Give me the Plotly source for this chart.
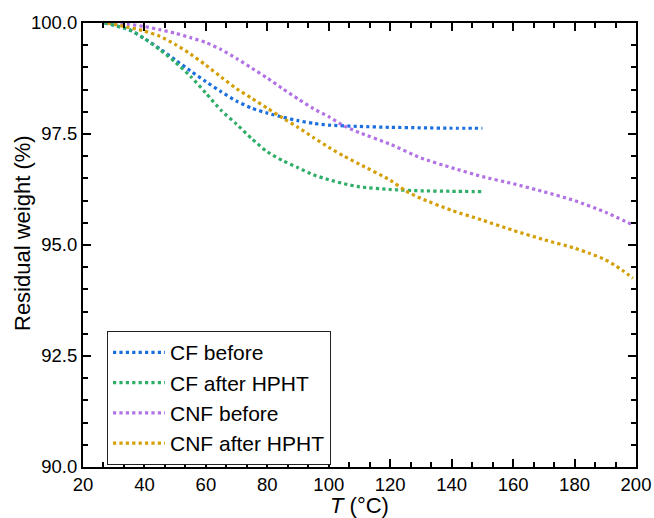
import plotly.graph_objects as go

# Thermogravimetric curves: residual weight vs temperature
cf_before_T = [27, 35, 40, 45, 50, 55, 60, 65, 70, 75, 80, 85, 90, 95, 100, 110, 120, 130, 140, 150]
cf_before_w = [100.0, 99.85, 99.65, 99.42, 99.17, 98.92, 98.68, 98.45, 98.24, 98.08, 97.97, 97.88, 97.8, 97.74, 97.7, 97.67, 97.65, 97.64, 97.63, 97.63]

cf_after_T = [27, 35, 40, 45, 50, 55, 60, 65, 70, 75, 80, 85, 90, 95, 100, 105, 110, 120, 130, 140, 150]
cf_after_w = [100.0, 99.85, 99.65, 99.4, 99.12, 98.8, 98.42, 98.03, 97.72, 97.39, 97.1, 96.9, 96.74, 96.58, 96.47, 96.38, 96.31, 96.25, 96.22, 96.21, 96.2]

cnf_before_T = [28, 35, 40, 45, 50, 55, 60, 65, 70, 75, 80, 85, 90, 95, 100, 105, 110, 120, 130, 140, 150, 160, 170, 180, 190, 199]
cnf_before_w = [100.0, 99.97, 99.92, 99.85, 99.77, 99.67, 99.56, 99.4, 99.2, 98.98, 98.76, 98.52, 98.29, 98.07, 97.89, 97.68, 97.53, 97.27, 96.96, 96.74, 96.54, 96.38, 96.2, 96.0, 95.74, 95.45]

cnf_after_T = [28, 35, 40, 45, 50, 55, 60, 65, 70, 75, 80, 85, 90, 95, 100, 105, 110, 120, 125, 130, 140, 150, 160, 170, 180, 185, 190, 193, 196, 199]
cnf_after_w = [100.0, 99.9, 99.82, 99.7, 99.52, 99.3, 99.05, 98.78, 98.52, 98.3, 98.08, 97.86, 97.65, 97.42, 97.2, 97.0, 96.82, 96.46, 96.22, 96.05, 95.78, 95.56, 95.33, 95.12, 94.93, 94.81, 94.67, 94.55, 94.41, 94.25]

series_names = ["CF before", "CF after HPHT", "CNF before", "CNF after HPHT"]
series_T = [cf_before_T, cf_after_T, cnf_before_T, cnf_after_T]
series_w = [cf_before_w, cf_after_w, cnf_before_w, cnf_after_w]
colors = ["#1a6fdf", "#2fae68", "#b273e4", "#d49e05"]

FONT = "Arial, Liberation Sans, sans-serif"

fig = go.Figure()
for name, T, w, c in zip(series_names, series_T, series_w, colors):
    fig.add_trace(go.Scatter(
        x=T, y=w, name=name, mode="lines",
        line=dict(color=c, width=3.2, dash="dot", shape="spline", smoothing=0.6),
    ))

axis_common = dict(
    showline=True, linecolor="black", linewidth=2, mirror="ticks",
    ticks="inside", ticklen=8, tickwidth=1.5, tickcolor="black",
    showgrid=False, zeroline=False, automargin=False,
    tickfont=dict(family=FONT, size=18.5, color="black"),
)

fig.update_xaxes(
    range=[20, 200], tick0=20, dtick=20,
    minor=dict(ticks="inside", ticklen=5, tickwidth=1.5, tickcolor="black", dtick=20 / 3, tick0=20, showgrid=False),
    title=dict(text="<i>T</i> (°C)", font=dict(family=FONT, size=22, color="black"), standoff=0),
    **axis_common,
)
fig.update_yaxes(
    range=[90, 100], tick0=90, dtick=2.5, tickformat=".1f",
    minor=dict(ticks="inside", ticklen=5, tickwidth=1.5, tickcolor="black", dtick=0.5, tick0=90, showgrid=False),
    **axis_common,
)

# y-axis title placed as a rotated annotation so it sits close to the tick labels
fig.add_annotation(
    text="Residual weight (%)", textangle=-90,
    xref="paper", yref="paper", x=0, y=0.5, xanchor="center", yanchor="middle",
    xshift=-61, yshift=12, showarrow=False,
    font=dict(family=FONT, size=22, color="black"),
)

fig.update_layout(
    template="none",
    width=654, height=518,
    margin=dict(l=83, r=18, t=23, b=51),
    plot_bgcolor="white", paper_bgcolor="white",
    font=dict(family=FONT, color="black"),
    showlegend=True,
    legend=dict(
        x=0.0434, y=0.306, xanchor="left", yanchor="top",
        bgcolor="white", bordercolor="#222", borderwidth=1,
        font=dict(family=FONT, size=21, color="black"),
        itemwidth=52,
    ),
)

fig.write_html("out.html")
